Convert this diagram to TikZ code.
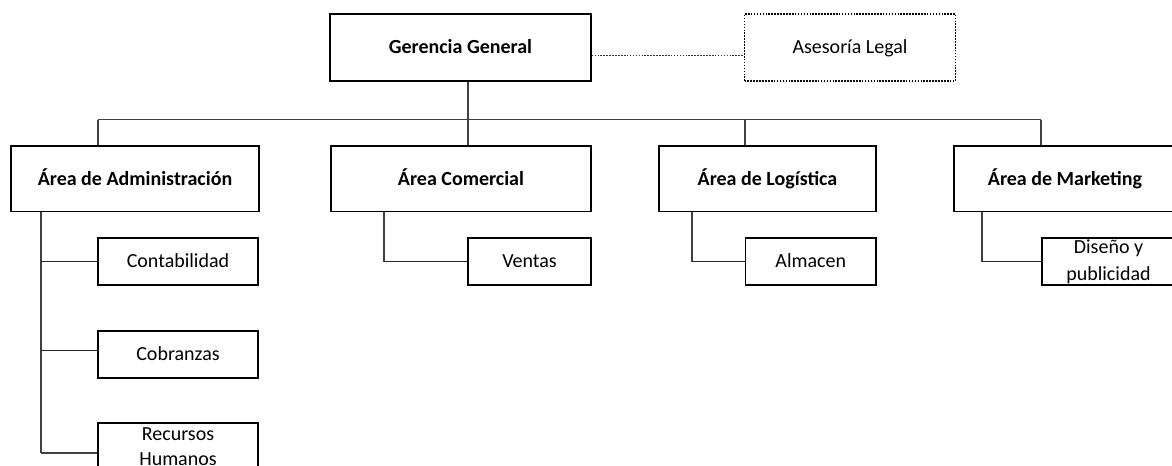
\documentclass[tikz,border=0pt]{standalone}
\usepackage{fontspec}
\setmainfont{Carlito}
\usetikzlibrary{calc}
\begin{document}
\begin{tikzpicture}[x=0.75pt,y=-0.75pt,
  every node/.style={inner sep=0pt, font=\fontsize{15}{20}\selectfont},
  box/.style={draw=black, line width=1pt, fill=white, align=center},
  one/.style={text height=12.6pt, text depth=3pt},
  bigbox/.style={box, one, minimum height=49pt, font=\fontsize{15}{20}\selectfont\bfseries},
  subbox/.style={box, minimum height=35.25pt},
  link/.style={draw=black!75, line width=0.8pt},
  sublink/.style={draw=black!85, line width=1.1pt},
  dotlink/.style={draw=black!80, line width=0.8pt, dash pattern=on 1.2pt off 1pt}
]
\useasboundingbox (0,0) rectangle (1172,465);
\clip (0,0) rectangle (1172,465);
\fill[white] (0,0) rectangle (1172,465);

% bus coordinates
\coordinate (busL) at (98,119.5);
\coordinate (busC) at (468,119.5);
\coordinate (busG) at (745,119.5);
\coordinate (busR) at (1041,119.5);
\coordinate (vadm) at (41,0);
\coordinate (vcom) at (384,0);
\coordinate (vlog) at (692,0);
\coordinate (vmkt) at (982,0);

% top level
\node[box, one, minimum width=195.75pt, minimum height=50.25pt, font=\fontsize{15}{20}\selectfont\bfseries] (ger) at (460.5,47.5) {Gerencia General};
\node[box, one, dotlink, draw=black, line width=0.9pt, minimum width=158.25pt, minimum height=50.25pt] (ase) at (850,47.5) {Asesoría Legal};

% area boxes
\node[bigbox, minimum width=186pt] (adm) at (135,178.75) {Área de Administración};
\node[bigbox, minimum width=195pt] (com) at (461,178.75) {Área Comercial};
\node[bigbox, minimum width=162.75pt] (log) at (767.5,178.75) {Área de Logística};
\node[bigbox, minimum width=166.5pt] (mkt) at (1065,178.75) {Área de Marketing};

% sub boxes
\node[subbox, one, minimum width=120pt] (con) at (178,261.5) {Contabilidad};
\node[subbox, one, minimum width=120pt] (cob) at (178,354.5) {Cobranzas};
\node[subbox, minimum width=120pt, font=\fontsize{15}{18.5}\selectfont] (rrhh) at (178,446.5) {Recursos\\Humanos};
\node[subbox, one, minimum width=92.25pt] (ven) at (529.5,261.5) {Ventas};
\node[subbox, one, minimum width=97.9pt] (alm) at (810.75,261.5) {Almacen};
\node[subbox, minimum width=100pt] (dis) at (1108.5,261.5) {Diseño y\\publicidad};

% connectors
\draw[dotlink] (ger.east |- 0,55.7) -- (ase.west |- 0,55.7);
\draw[link] (busL) -- (busR);
\draw[link] (ger.south -| busC) -- (busC |- com.north);
\draw[link] (busL) -- (busL |- adm.north);
\draw[link] (busG) -- (busG |- log.north);
\draw[link] (busR) -- (busR |- mkt.north);

\draw[link] (adm.south -| vadm) -- (vadm |- 0,453);
\draw[sublink] (vadm |- con.west) -- (con.west);
\draw[sublink] ($(vadm |- cob.west)+(0,-3.8)$) -- ($(cob.west)+(0,-3.8)$);
\draw[link] ($(vadm |- rrhh.west)+(0,6.5)$) -- ($(rrhh.west)+(0,6.5)$);

\draw[link] (com.south -| vcom) -- (vcom |- ven.west);
\draw[sublink] (vcom |- ven.west) -- (ven.west);
\draw[link] (log.south -| vlog) -- (vlog |- alm.west);
\draw[sublink] (vlog |- alm.west) -- (alm.west);
\draw[link] (mkt.south -| vmkt) -- (vmkt |- dis.west);
\draw[sublink] (vmkt |- dis.west) -- (dis.west);
\end{tikzpicture}
\end{document}
